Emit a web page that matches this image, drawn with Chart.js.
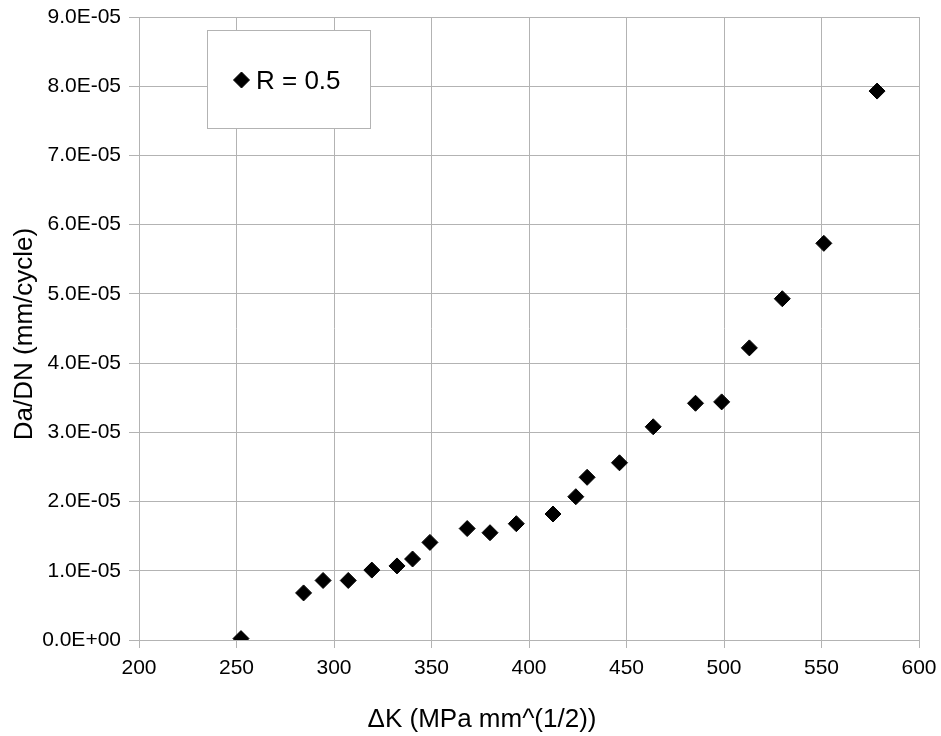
<!DOCTYPE html>
<html>
<head>
<meta charset="utf-8">
<script src="https://cdn.jsdelivr.net/npm/chart.js@4"></script>
<style>
  html, body { margin: 0; padding: 0; background: #fff; }
</style>
</head>
<body>
<canvas id="fatigue-chart" width="941" height="736"></canvas>
<script>
// Crack growth data
const deltaK = [252.3, 284.4, 294.4, 307.3, 319.4, 332.3, 340.3, 349.2, 368.3, 380.0, 393.5,
                412.3, 424.0, 429.8, 446.4, 463.7, 485.4, 498.8, 513.0, 529.9, 551.2, 578.5];
const daDn = [0.02e-5, 0.68e-5, 0.86e-5, 0.86e-5, 1.01e-5, 1.07e-5, 1.17e-5, 1.41e-5, 1.61e-5, 1.55e-5, 1.68e-5,
              1.82e-5, 2.07e-5, 2.35e-5, 2.56e-5, 3.08e-5, 3.42e-5, 3.44e-5, 4.22e-5, 4.93e-5, 5.73e-5, 7.93e-5];
const seriesLabel = 'R = 0.5';
const xTitle = 'ΔK (MPa mm^(1/2))';
const yTitle = 'Da/DN (mm/cycle)';

const gridColor = '#b3b3b3';
const fontFamily = "'Liberation Sans', Arial, sans-serif";

// 9e-5 -> "9.0E-05"
function sci(v) {
    const parts = Number(v).toExponential(1).split('e');
    const exp = parseInt(parts[1], 10);
    const sign = exp < 0 ? '-' : '+';
    return parts[0] + 'E' + sign + String(Math.abs(exp)).padStart(2, '0');
}

const points = deltaK.map((k, i) => ({ x: k, y: daDn[i] }));

// axis titles + boxed legend drawn by hand to match the original placement
const decorations = {
    id: 'decorations',
    afterDraw(chart) {
        const ctx = chart.ctx;
        ctx.save();
        ctx.fillStyle = '#000';

        ctx.font = '26px ' + fontFamily;
        ctx.textAlign = 'center';
        ctx.textBaseline = 'alphabetic';
        ctx.fillText(xTitle, 482, 727);

        ctx.translate(32, 334);
        ctx.rotate(-Math.PI / 2);
        ctx.fillText(yTitle, 0, 0);
        ctx.restore();

        // legend box
        ctx.save();
        ctx.fillStyle = '#fff';
        ctx.strokeStyle = gridColor;
        ctx.lineWidth = 1;
        ctx.fillRect(207, 30, 163, 98);
        ctx.strokeRect(207.5, 30.5, 163, 98);
        ctx.fillStyle = '#000';
        ctx.strokeStyle = '#000';
        Chart.helpers.drawPoint(ctx, { pointStyle: 'rectRot', radius: 8, borderWidth: 1 }, 241.5, 80);
        ctx.font = '26px ' + fontFamily;
        ctx.textAlign = 'left';
        ctx.textBaseline = 'alphabetic';
        ctx.fillText(chart.data.datasets[0].label, 256, 89);
        ctx.restore();
    }
};

// fix axis sizes so the plot area lands where it does in the original
function fitX(scale) {
    scale.height = 96;
    scale.paddingLeft = 0;
    scale.paddingRight = 0;
}
function fitY(scale) {
    scale.width = 139;
    scale.paddingTop = 0;
    scale.paddingBottom = 0;
}

const chart = new Chart(document.getElementById('fatigue-chart').getContext('2d'), {
    type: 'scatter',
    data: {
        datasets: [{
            label: seriesLabel,
            data: points,
            pointStyle: 'rectRot',
            pointRadius: 8,
            pointHoverRadius: 8,
            backgroundColor: '#000',
            borderColor: '#000',
            borderWidth: 1
        }]
    },
    options: {
        responsive: false,
        animation: false,
        layout: { padding: { top: 17, right: 22, left: 0, bottom: 0 } },
        plugins: {
            legend: { display: false },
            tooltip: { enabled: false }
        },
        scales: {
            x: {
                type: 'linear',
                min: 200,
                max: 600,
                afterFit: fitX,
                ticks: {
                    stepSize: 50,
                    color: '#000',
                    padding: 8,
                    font: { family: fontFamily, size: 21 }
                },
                grid: { color: gridColor, tickLength: 8 },
                border: { color: gridColor }
            },
            y: {
                min: 0,
                max: 9e-5,
                afterFit: fitY,
                ticks: {
                    stepSize: 1e-5,
                    color: '#000',
                    padding: 8,
                    font: { family: fontFamily, size: 21 },
                    callback: (v) => sci(v)
                },
                grid: { color: gridColor, tickLength: 10 },
                border: { color: gridColor }
            }
        }
    },
    plugins: [decorations]
});
</script>
</body>
</html>
